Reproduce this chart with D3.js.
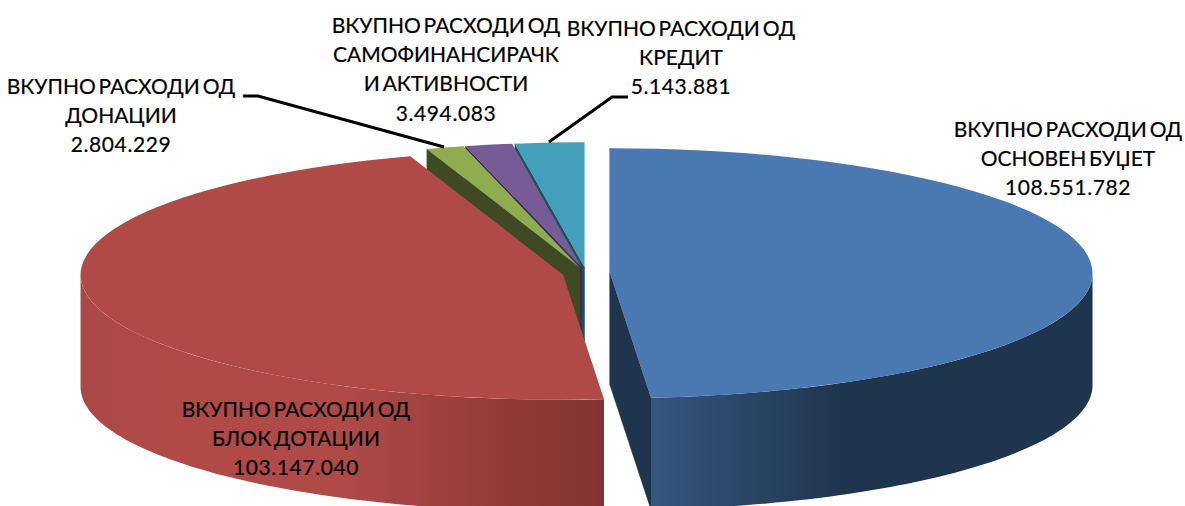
<!DOCTYPE html>
<html>
<head>
<meta charset="utf-8">
<script src="https://cdn.jsdelivr.net/npm/d3@7/dist/d3.min.js"></script>
<style>
html,body{margin:0;padding:0;background:#fff;overflow:hidden}
svg{display:block}
text{font-family:"Lato","Open Sans",sans-serif;font-size:21px;fill:#000;stroke:#000;stroke-width:.2px;text-anchor:middle;word-spacing:-2.5px}
tspan.num{letter-spacing:.6px}
</style>
</head>
<body>
<svg id="c" width="1185" height="506"></svg>
<script>
// --- data ---
const categories = ["ОСНОВЕН БУЏЕТ","БЛОК ДОТАЦИИ","ДОНАЦИИ","САМОФИНАНСИРАЧК И АКТИВНОСТИ","КРЕДИТ"];
const values = [108551782,103147040,2804229,3494083,5143881];
const valueLabels = ["108.551.782","103.147.040","2.804.229","3.494.083","5.143.881"];
const labelLines = [
  ["ВКУПНО РАСХОДИ ОД","ОСНОВЕН БУЏЕТ"],
  ["ВКУПНО РАСХОДИ ОД","БЛОК ДОТАЦИИ"],
  ["ВКУПНО РАСХОДИ ОД","ДОНАЦИИ"],
  ["ВКУПНО РАСХОДИ ОД","САМОФИНАНСИРАЧК","И АКТИВНОСТИ"],
  ["ВКУПНО РАСХОДИ ОД","КРЕДИТ"]
];
// --- styling / layout ---
const topColors  = ["#4a78b0","#b04a47","#8fac50","#775b96","#44a0ba"];
const wallColors = ["#1f344d","#843432","#3f4a23","#3b2d4e","#1e5060"];
const labelPos = [[1068,130],[296,410],[121,87],[446,26],[681,29]];
const cx0=586.3, cy0=273.5, rx=482.5, ry=125, depth=112, explode=0.0492;
const lineH=29.2;

const svg=d3.select("#c");
const defs=svg.append("defs");
const pie=d3.pie().sort(null).value(d=>d);
const arcs=pie(values);
const arc=d3.arc().innerRadius(0).outerRadius(rx);
const k=ry/rx;

const pt=(a,c,dy=0)=>[c[0]+rx*Math.sin(a),c[1]-ry*Math.cos(a)+dy];
const centers=arcs.map(d=>{
  const m=(d.startAngle+d.endAngle)/2;
  return [cx0+explode*rx*Math.sin(m),cy0-explode*ry*Math.cos(m)];
});

// rim gradients
function grad(id,x1,x2,stops){
  const g=defs.append("linearGradient").attr("id",id).attr("gradientUnits","userSpaceOnUse")
    .attr("x1",x1).attr("x2",x2).attr("y1",0).attr("y2",0);
  stops.forEach(s=>g.append("stop").attr("offset",s[0]).attr("stop-color",s[1]));
}
grad("rim0",651,1092,[[0,"#35567e"],[0.45,"#1f344d"],[1,"#1f344d"]]);
grad("rim1",80,604,[[0,"#a84846"],[0.06,"#ad4a47"],[0.22,"#b04a47"],[0.5,"#af4a47"],[0.62,"#a44542"],[0.8,"#923b38"],[1,"#833432"]]);

const line=d3.line();
// draw back to front
[4,3,2,1,0].forEach(i=>{
  const d=arcs[i], c=centers[i], g=svg.append("g");
  const a0=d.startAngle, a1=d.endAngle;
  const wall=a=>{
    const p=pt(a,c);
    g.append("path").attr("d",line([c,p,[p[0],p[1]+depth],[c[0],c[1]+depth]])+"Z")
      .attr("fill",wallColors[i]).attr("stroke",wallColors[i]).attr("stroke-width",0.5);
  };
  if(Math.cos(a0)>0) wall(a0);
  if(Math.cos(a1)<0) wall(a1);
  const r0=Math.max(a0,Math.PI/2), r1=Math.min(a1,1.5*Math.PI);
  if(r1>r0){
    const as=d3.range(0,81).map(t=>r0+(r1-r0)*t/80);
    const pts=as.map(a=>pt(a,c)).concat(as.slice().reverse().map(a=>pt(a,c,depth)));
    g.append("path").attr("d",line(pts)+"Z").attr("fill",`url(#rim${i})`);
  }
  g.append("path").attr("d",arc(d))
    .attr("transform",`translate(${c[0]},${c[1]}) scale(1,${k})`)
    .attr("fill",topColors[i]);
});

// leader lines
const leaders=[
  [[243,96],[258,96],[444,147]],
  [[549,142],[612,97],[628,97]]
];
leaders.forEach(l=>svg.append("path").attr("d",line(l)).attr("fill","none").attr("stroke","#000").attr("stroke-width",3));

// labels
categories.forEach((name,i)=>{
  const t=svg.append("text").attr("aria-label",name);
  const rows=labelLines[i];
  rows.forEach((s,j)=>{
    t.append("tspan").attr("x",labelPos[i][0]).attr("y",labelPos[i][1]+7+j*lineH).text(s);
  });
  t.append("tspan").attr("class","num").attr("x",labelPos[i][0]).attr("y",labelPos[i][1]+7+rows.length*lineH).text(valueLabels[i]);
});
</script>
</body>
</html>
